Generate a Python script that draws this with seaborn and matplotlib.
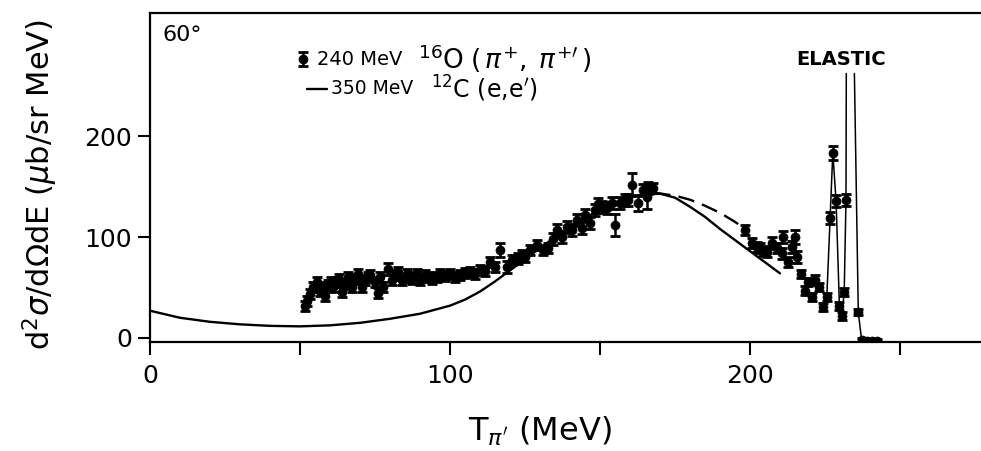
import matplotlib
matplotlib.use("Agg")
import matplotlib.pyplot as plt
import seaborn as sns

# 240 MeV 16O(pi+, pi+') data points
data_x = [51.7, 52.2, 53.3, 54.4, 55.6, 56.7, 57.5, 58.3, 59.4, 60.3, 61.1, 62.2, 63.0, 63.9,
          65.0, 66.1, 67.2, 68.3, 69.4, 70.6, 71.7, 72.5, 73.3, 75.0, 76.1, 76.7, 77.8, 79.4,
          80.6, 81.7, 82.8, 83.9, 85.6, 86.4, 87.2, 88.9, 90.0, 91.7, 92.8, 93.9, 95.5, 96.7,
          98.3, 100.0, 101.7, 103.3, 105.0, 106.7, 108.3, 110.0, 111.7, 113.3, 115.0, 116.7,
          118.9, 120.6, 122.8, 124.0, 125.0, 126.7, 128.9, 131.1, 132.8, 134.4, 135.6, 137.2,
          138.9, 140.6, 142.2, 143.9, 145.0, 146.7, 148.3, 149.4, 150.6, 152.2, 153.9, 155.0,
          156.7, 158.3, 159.4, 160.6, 162.8, 164.4, 165.6, 166.1, 167.8,
          198.3, 200.6, 202.2, 203.3, 204.4, 205.6, 207.2, 208.9, 210.6, 211.1, 212.8, 213.9,
          215.0, 215.8, 216.9, 218.3, 219.4, 220.6, 221.7, 223.1, 224.4, 225.6, 226.7, 227.6,
          228.7, 229.8, 230.6, 231.4, 232.0, 236.1, 237.2, 238.9, 240.6, 242.2]
data_y = [32, 37, 43.7, 50.3, 55.3, 47, 50, 42, 52, 55, 50.3, 55.3, 58, 45.3,
          53.7, 60.3, 50.3, 58, 63.7, 50.3, 57, 60, 62, 55.3, 45, 60.3, 50.3, 68,
          57, 62, 65.3, 57, 63.7, 60, 58.7, 63.7, 57, 62, 60, 58.7, 60, 63.7,
          61, 63.7, 60, 62, 64, 65.3, 63, 67, 66, 75.3, 70, 87,
          70, 77, 78.7, 82, 80.3, 87, 92, 87, 88.7, 98, 107, 100.3,
          110.3, 107, 117, 108.7, 122, 113.7, 127, 133, 130, 128.7, 133.7, 112,
          133.7, 137, 137, 152, 133.7, 147, 140, 148.7, 148.7,
          107, 93.7, 90, 88.7, 86, 85.3, 93.7, 88.7, 83.7, 100.3, 75.3, 90.3,
          100.3, 80.3, 63.7, 47, 55.3, 40.3, 57, 50.3, 30.3, 40.3, 118.7, 183.7,
          135.3, 32, 22, 45.3, 137, 25.3, -2, -3, -3, -3]
data_err = [5, 5, 5, 5, 5, 5, 5, 5, 5, 5, 5, 5, 5, 5,
            5, 5, 5, 5, 5, 5, 5, 5, 5, 5, 5, 5, 5, 6,
            5, 5, 5, 5, 5, 5, 5, 5, 5, 5, 5, 5, 5, 5,
            5, 5, 5, 5, 5, 5, 5, 5, 5, 5, 5, 7,
            6, 5, 5, 5, 5, 5, 5, 5, 5, 6, 6, 6,
            6, 6, 6, 6, 6, 6, 6, 6, 6, 6, 6, 11,
            6, 6, 6, 11, 8, 6, 12, 6, 5,
            5, 5, 5, 5, 5, 5, 6, 5, 5, 6, 5, 6,
            7, 6, 4, 4, 4, 4, 5, 4, 4, 4, 6, 7,
            6, 4, 4, 4, 6, 3, 2, 2, 2, 2]

# 350 MeV 12C(e,e') curve
curve_x = [0, 10, 20, 30, 40, 50, 60, 70, 80, 90, 100, 105, 110, 115, 120, 125, 130, 135,
           140, 145, 150, 155, 160, 165, 170, 175, 180, 185, 190, 195, 200, 205, 210]
curve_y = [27, 20, 16, 13.5, 12, 11.5, 12.5, 15, 19, 24, 32, 38, 46, 56, 67, 78, 89, 100,
           110, 119, 127, 134, 139, 142, 143, 139, 130, 120, 108, 97, 86, 75, 64]
dash_x = [168, 175, 180, 185, 190, 195, 198]
dash_y = [144, 141, 137, 131, 124, 115, 109]

# thin lines through the elastic peak (runs off scale under the label)
rise_x = [225.6, 226.7, 227.6, 228.7, 229.8, 230.6, 231.4, 232.0, 232.1]
rise_y = [40.3, 118.7, 183.7, 135.3, 32, 22, 45.3, 137, 262]
fall_x = [234.8, 236.1, 237.2]
fall_y = [262, 25.3, -2]

x_major = [0, 100, 200]
x_minor = [50, 150, 250]
y_ticks = [0, 100, 200]

sns.set_theme(style="ticks")
plt.rcParams["font.family"] = ["DejaVu Sans"]
plt.rcParams["mathtext.fontset"] = "dejavusans"
plt.rcParams["text.color"] = "black"

fig = plt.figure(figsize=(9.81, 4.51), dpi=100)
ax = fig.add_axes([150 / 981, 109 / 451, 831 / 981, 329 / 451])

sns.lineplot(x=curve_x, y=curve_y, color="black", lw=1.7, ax=ax)
sns.lineplot(x=dash_x, y=dash_y, color="black", lw=1.7, ax=ax, linestyle=(0, (7, 3.5)))
sns.lineplot(x=rise_x, y=rise_y, color="black", lw=1.1, sort=False, estimator=None, ax=ax)
sns.lineplot(x=fall_x, y=fall_y, color="black", lw=1.1, sort=False, estimator=None, ax=ax)

ax.errorbar(data_x, data_y, yerr=data_err, fmt="none", ecolor="black",
            elinewidth=1.8, capsize=3.6, capthick=2.0, zorder=3)
sns.scatterplot(x=data_x, y=data_y, color="black", s=42, edgecolor="black",
                linewidth=0.5, zorder=4, ax=ax)

ax.set_xlim(0, 277)
ax.set_ylim(-4, 322)
ax.set_xticks(x_major)
ax.set_xticks(x_minor, minor=True)
ax.set_yticks(y_ticks)
ax.tick_params(which="both", direction="out", length=9, width=1.5, labelsize=18,
               color="black", labelcolor="black")
ax.tick_params(axis="x", pad=7)
ax.tick_params(axis="y", pad=4)
for side in ["left", "bottom", "top"]:
    ax.spines[side].set_linewidth(1.6)
    ax.spines[side].set_color("black")
ax.spines["right"].set_visible(False)

ax.set_xlabel(r"T$_{\pi'}$ (MeV)", fontsize=23, color="black")
ax.set_ylabel(r"d$^2\sigma$/d$\Omega$dE ($\mu$b/sr MeV)", fontsize=22, color="black")
ax.xaxis.set_label_coords(0.469, -0.222)
ax.yaxis.set_label_coords(-0.108, 0.478)

# legend and annotations
ax.text(0.015, 0.933, "60°", transform=ax.transAxes, fontsize=16, va="center", ha="left")
ax.errorbar([0.184], [0.86], yerr=[0.022], transform=ax.transAxes, fmt="o", color="black",
            ms=6, elinewidth=1.8, capsize=3.6, capthick=2.0)
ax.text(0.201, 0.86, "240 MeV", transform=ax.transAxes, fontsize=14, va="center")
ax.text(0.322, 0.86, r"$^{16}$O$\;(\,\pi^{+},\;\pi^{+\prime}\,)$", transform=ax.transAxes,
        fontsize=19, va="center")
ax.plot([0.189, 0.213], [0.769, 0.769], transform=ax.transAxes, color="black", lw=1.7)
ax.text(0.218, 0.769, "350 MeV", transform=ax.transAxes, fontsize=13.5, va="center")
ax.text(0.338, 0.769, r"$^{12}$C (e,e$'$)", transform=ax.transAxes, fontsize=17, va="center")
ax.text(230.3, 276, "ELASTIC", fontsize=14, fontweight="bold", ha="center", va="center")

fig.savefig("out.png", dpi=100)
